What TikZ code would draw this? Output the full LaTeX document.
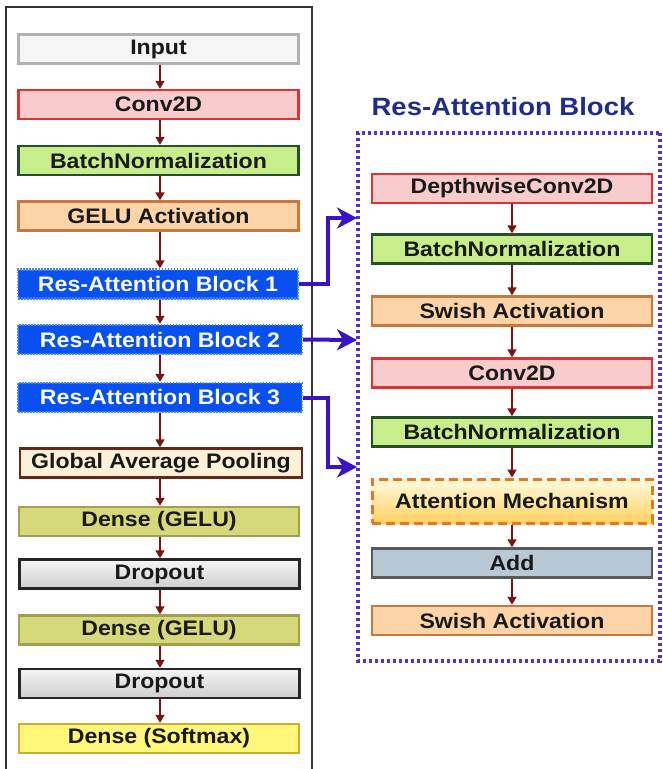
\documentclass[tikz,border=0pt]{standalone}
\usepackage{fontspec}
\setmainfont[FakeStretch=1.1]{Liberation Sans}
\usetikzlibrary{arrows.meta}
\definecolor{redarr}{HTML}{7A1414}
\definecolor{bluearr}{HTML}{3A12C8}
\definecolor{titleblue}{HTML}{1F2C8C}
\tikzset{
  box/.style={draw, line width=2.4pt, minimum width=280pt, minimum height=29pt, inner sep=0pt,
    font=\fontsize{21}{24}\selectfont\bfseries, text=black!90},
  inbox/.style={box, fill=gray!8, draw=gray!60},
  convbox/.style={box, fill={rgb,255:red,248;green,204;blue,204}, draw={rgb,255:red,224;green,50;blue,50}},
  bnbox/.style={box, fill={rgb,255:red,200;green,238;blue,140}, draw={rgb,255:red,40;green,80;blue,40}},
  actbox/.style={box, fill={rgb,255:red,252;green,212;blue,168}, draw={rgb,255:red,200;green,120;blue,60}},
  rabbox/.style={box, fill={rgb,255:red,8;green,80;blue,240}, draw={rgb,255:red,70;green,130;blue,255},
    dash pattern=on 1.5pt off 1.5pt, text=white},
  gapbox/.style={box, fill={rgb,255:red,253;green,240;blue,216}, draw={rgb,255:red,100;green,40;blue,20}},
  densebox/.style={box, fill={rgb,255:red,214;green,217;blue,122}, draw={rgb,255:red,160;green,160;blue,80}},
  dropbox/.style={box, top color=gray!8, bottom color=gray!38, draw=black!85},
  softbox/.style={box, fill={rgb,255:red,255;green,246;blue,122}, draw={rgb,255:red,200;green,176;blue,48}},
  addbox/.style={box, fill={rgb,255:red,184;green,200;blue,212}, draw=black!65},
  attbox/.style={box, minimum height=44pt, top color={rgb,255:red,255;green,251;blue,224},
    bottom color={rgb,255:red,255;green,208;blue,96}, draw={rgb,255:red,232;green,120;blue,32},
    line width=3pt, dash pattern=on 9pt off 5pt},
  flow/.style={draw=redarr, line width=1.7pt, -{Triangle[width=9pt,length=8pt]}},
  link/.style={draw=bluearr, line width=4pt, -{Stealth[width=21pt,length=20pt,inset=6pt]}},
}
\begin{document}
\begin{tikzpicture}[x=1pt,y=-1pt]
\useasboundingbox (0,0) rectangle (662,769);
% left frame
\draw[line width=1.2pt, black!80] (6,769) -- (6,7) -- (312,7) -- (312,769);
% left column
\node[inbox]    (in)   at (158.5,49)   {Input};
\node[convbox]  (c1)   at (158.5,104.5){Conv2D};
\node[bnbox]    (b1)   at (158.5,160.5){BatchNormalization};
\node[actbox]   (g1)   at (158.5,216)  {GELU Activation};
\node[rabbox]   (r1)   at (158,284)    {Res-Attention Block 1};
\node[rabbox, minimum width=284pt] (r2) at (160,339.5) {Res-Attention Block 2};
\node[rabbox, minimum width=284pt] (r3) at (160,397.5) {Res-Attention Block 3};
\node[gapbox, minimum width=282pt] (gp) at (161,463) {Global Average Pooling};
\node[densebox] (d1)   at (159,521.5)  {Dense (GELU)};
\node[dropbox]  (p1)   at (159.5,574)  {Dropout};
\node[densebox] (d2)   at (159,630)    {Dense (GELU)};
\node[dropbox]  (p2)   at (159.5,683.5){Dropout};
\node[softbox]  (sm)   at (159,738.5)  {Dense (Softmax)};
\foreach \a/\b in {in/c1,c1/b1,b1/g1,g1/r1,r1/r2,r2/r3,r3/gp,gp/d1,d1/p1,p1/d2,d2/p2,p2/sm}
  \draw[flow] (\a.south -| 160,0) -- (\b.north -| 160,0);
% right block
\node[font=\fontsize{25}{28}\selectfont\bfseries, text=titleblue] (title) at (503,107) {Res-Attention Block};
\draw[draw={rgb,255:red,80;green,48;blue,208}, line width=3.5pt, dash pattern=on 3pt off 3pt]
  (660,133) rectangle (358,661);
\node[convbox] (dw)  at (512,188.5) {DepthwiseConv2D};
\node[bnbox]   (b2)  at (512,249)   {BatchNormalization};
\node[actbox]  (s1)  at (512,311)   {Swish Activation};
\node[convbox] (c2)  at (512,373)   {Conv2D};
\node[bnbox]   (b3)  at (512,432)   {BatchNormalization};
\node[attbox]  (at)  at (512,501)   {Attention Mechanism};
\node[addbox]  (ad)  at (512,563)   {Add};
\node[actbox]  (s2)  at (512,620.5) {Swish Activation};
\foreach \a/\b in {dw/b2,b2/s1,s1/c2,c2/b3,b3/at,at/ad,ad/s2}
  \draw[flow] (\a.south) -- (\b.north);
% links
\coordinate (e1) at (357,218);
\coordinate (e2) at (357,340);
\coordinate (e3) at (357,467);
\draw[link] (r1.east) -- (328,284) -- (328,218) -- (e1);
\draw[link] (r2.east) -- (e2);
\draw[link] (r3.east) -- (328,397.5) -- (328,467) -- (e3);
\end{tikzpicture}
\end{document}
